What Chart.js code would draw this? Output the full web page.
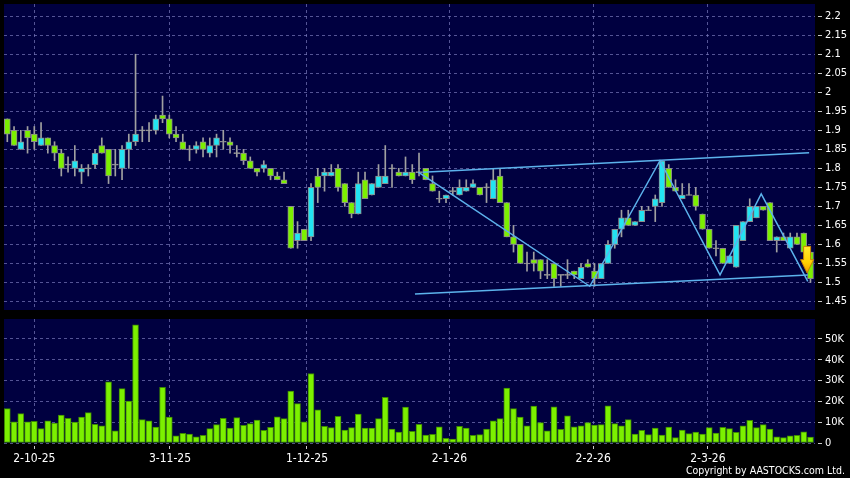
<!DOCTYPE html>
<html>
<head>
<meta charset="utf-8">
<script src="https://cdn.jsdelivr.net/npm/chart.js@4.4.1/dist/chart.umd.min.js"></script>
<style>
  html, body { margin: 0; padding: 0; background: #000; }
  #wrap { position: relative; width: 850px; height: 478px; background: #000; overflow: hidden; }
  #price { position: absolute; left: 0; top: 0; }
  #vol { position: absolute; left: 0; top: 313px; }
  #copy { position: absolute; right: 5px; top: 464px; color: #fff; font: 10.5px "DejaVu Sans Condensed", "DejaVu Sans", sans-serif; white-space: nowrap; }
</style>
</head>
<body>
<div id="wrap">
  <canvas id="price" width="850" height="313"></canvas>
  <canvas id="vol" width="850" height="165"></canvas>
  <div id="copy">Copyright by AASTOCKS.com Ltd.</div>
</div>
<script>
// daily OHLC, oldest first
const opens = [1.93,1.90,1.85,1.90,1.89,1.86,1.88,1.86,1.84,1.81,
  1.80,1.79,1.80,1.81,1.86,1.85,1.81,1.80,1.85,1.87,
  1.90,1.90,1.90,1.94,1.93,1.89,1.87,1.85,1.85,1.87,
  1.84,1.86,1.87,1.87,1.84,1.84,1.82,1.80,1.80,1.80,
  1.78,1.77,1.70,1.61,1.64,1.62,1.78,1.78,1.78,1.80,
  1.76,1.71,1.68,1.77,1.73,1.75,1.76,1.80,1.79,1.78,
  1.79,1.79,1.80,1.76,1.72,1.72,1.74,1.73,1.74,1.75,
  1.75,1.75,1.72,1.78,1.71,1.62,1.60,1.55,1.56,1.56,
  1.52,1.55,1.52,1.52,1.53,1.51,1.55,1.53,1.51,1.55,
  1.60,1.64,1.67,1.65,1.66,1.69,1.70,1.71,1.80,1.75,
  1.72,1.73,1.73,1.68,1.64,1.59,1.59,1.55,1.54,1.61,
  1.66,1.67,1.70,1.71,1.61,1.62,1.59,1.62,1.63,1.58];
const highs = [1.93,1.91,1.90,1.91,1.91,1.92,1.88,1.87,1.85,1.83,
  1.86,1.81,1.81,1.85,1.88,1.85,1.85,1.86,1.89,2.10,
  1.91,1.92,1.94,1.99,1.94,1.91,1.89,1.86,1.87,1.88,
  1.88,1.89,1.90,1.88,1.86,1.85,1.83,1.80,1.82,1.80,
  1.79,1.79,1.70,1.66,1.64,1.76,1.80,1.80,1.81,1.81,
  1.76,1.71,1.79,1.79,1.76,1.81,1.86,1.81,1.80,1.83,
  1.81,1.84,1.80,1.78,1.74,1.73,1.75,1.77,1.77,1.77,
  1.75,1.76,1.80,1.80,1.71,1.65,1.60,1.58,1.58,1.56,
  1.56,1.55,1.52,1.56,1.53,1.55,1.56,1.55,1.55,1.61,
  1.64,1.69,1.69,1.66,1.70,1.70,1.73,1.82,1.81,1.77,
  1.76,1.76,1.75,1.68,1.64,1.61,1.59,1.57,1.65,1.66,
  1.72,1.70,1.70,1.71,1.62,1.63,1.63,1.63,1.63,1.58];
const lows = [1.87,1.86,1.85,1.84,1.85,1.86,1.84,1.82,1.78,1.79,
  1.78,1.76,1.78,1.80,1.84,1.76,1.78,1.77,1.80,1.86,
  1.87,1.87,1.89,1.92,1.88,1.87,1.85,1.82,1.84,1.83,
  1.83,1.83,1.85,1.84,1.83,1.81,1.80,1.78,1.79,1.77,
  1.77,1.76,1.59,1.59,1.61,1.61,1.71,1.74,1.78,1.74,
  1.70,1.67,1.68,1.72,1.73,1.75,1.76,1.75,1.78,1.78,
  1.76,1.78,1.77,1.74,1.71,1.71,1.73,1.73,1.74,1.75,
  1.73,1.71,1.72,1.71,1.62,1.58,1.55,1.53,1.53,1.51,
  1.51,1.49,1.49,1.51,1.51,1.51,1.54,1.49,1.51,1.55,
  1.59,1.62,1.65,1.65,1.66,1.69,1.66,1.70,1.75,1.74,
  1.72,1.73,1.69,1.64,1.59,1.57,1.55,1.55,1.54,1.61,
  1.66,1.67,1.69,1.61,1.58,1.61,1.59,1.60,1.58,1.50];
const closes = [1.89,1.86,1.87,1.88,1.87,1.88,1.86,1.84,1.80,1.81,
  1.82,1.80,1.80,1.84,1.84,1.78,1.81,1.85,1.87,1.89,
  1.90,1.90,1.93,1.93,1.89,1.88,1.85,1.85,1.86,1.85,
  1.86,1.88,1.87,1.86,1.84,1.82,1.80,1.79,1.81,1.78,
  1.77,1.76,1.59,1.63,1.61,1.75,1.75,1.79,1.79,1.75,
  1.71,1.68,1.76,1.72,1.76,1.78,1.78,1.80,1.78,1.79,
  1.77,1.79,1.77,1.74,1.72,1.73,1.74,1.75,1.75,1.76,
  1.73,1.75,1.77,1.71,1.62,1.60,1.55,1.55,1.55,1.53,
  1.52,1.51,1.52,1.52,1.52,1.54,1.54,1.51,1.55,1.60,
  1.64,1.67,1.65,1.66,1.69,1.69,1.72,1.82,1.75,1.74,
  1.73,1.73,1.70,1.64,1.59,1.59,1.55,1.57,1.65,1.66,
  1.70,1.70,1.69,1.61,1.62,1.61,1.62,1.60,1.58,1.51];
// volume in thousands
const volumes = [16.5,10.2,14.1,10.2,10.4,6.9,10.7,9.6,13.4,11.8,
  10.1,12.5,14.6,9.0,8.3,29.4,5.9,26.1,20.2,56.8,
  11.2,10.6,7.7,26.7,12.5,3.5,4.6,4.3,3.0,3.7,
  6.9,8.8,11.8,7.2,12.2,8.5,9.3,11.0,6.1,7.5,
  12.6,11.7,25.0,18.9,10.2,33.4,16.0,8.0,7.4,12.8,
  6.2,7.4,13.9,7.2,7.2,11.7,21.9,6.7,5.3,17.3,
  5.6,9.0,3.8,4.2,7.8,2.2,1.9,8.0,7.2,3.7,
  4.0,6.7,10.6,11.7,26.4,16.5,12.5,8.3,17.8,9.8,
  5.9,17.4,6.6,13.1,7.8,8.3,9.8,8.6,8.8,17.9,
  9.3,8.2,11.2,4.3,6.1,4.0,7.2,3.8,7.7,2.6,
  6.2,4.5,5.3,4.3,7.4,4.8,7.5,6.9,5.1,8.2,
  10.9,7.4,8.8,6.7,3.0,2.6,3.4,3.7,5.4,2.9];

const xTickLabels = ['2-10-25', '3-11-25', '1-12-25', '2-1-26', '2-2-26', '2-3-26'];
const xTickPos = [4, 24.1, 44.4, 65.5, 86.8, 103.8];   // in bar index units
const priceTicks = [1.45, 1.5, 1.55, 1.6, 1.65, 1.7, 1.75, 1.8, 1.85, 1.9, 1.95, 2, 2.05, 2.1, 2.15, 2.2];
const volTicks = [0, 10, 20, 30, 40, 50];

// hand drawn lines on the chart (bar index, price)
const upperChannel = [{x: 61.5, y: 1.790}, {x: 118.8, y: 1.841}];
const lowerChannel = [{x: 60.4, y: 1.470}, {x: 118.6, y: 1.520}];
const zigzag = [{x: 60.9, y: 1.79}, {x: 86.3, y: 1.49}, {x: 96.7, y: 1.82},
  {x: 105.6, y: 1.52}, {x: 111.7, y: 1.733}, {x: 118.6, y: 1.503}];

const NAVY = '#000040';
const GRID = 'rgba(120,120,185,0.7)';
const UP = '#22e4f2';
const DOWN = '#7cf000';
const FLAT = '#a0a0a0';
const LINE = '#5cb2ec';
const FONT = '"DejaVu Sans Condensed", "DejaVu Sans", sans-serif';
const X_MIN = -0.49, X_MAX = 119.67;

const bodies = opens.map((o, i) => {
  const c = closes[i];
  if (Math.abs(o - c) < 0.004) return {x: i, y: [o - 0.0013, o + 0.0013]};
  return {x: i, y: [o, c]};
});
const bodyColors = opens.map((o, i) => closes[i] > o + 0.004 ? UP : (closes[i] < o - 0.004 ? DOWN : FLAT));
const wicks = highs.map((h, i) => ({x: i, y: [lows[i], h]}));
const volBars = volumes.map((v, i) => ({x: i, y: v}));

// navy plot background
const plotBg = {
  id: 'plotBg',
  beforeDraw(chart) {
    const {ctx, chartArea: a} = chart;
    ctx.save();
    ctx.fillStyle = NAVY;
    ctx.fillRect(a.left, a.top, a.right - a.left, a.bottom - a.top);
    ctx.restore();
  }
};

// yellow down arrow on the last bar
const downArrow = {
  id: 'downArrow',
  afterDatasetsDraw(chart) {
    const {ctx, scales: {x, y}} = chart;
    const cx = x.getPixelForValue(118.5);
    const top = y.getPixelForValue(1.595), neck = y.getPixelForValue(1.56), tip = y.getPixelForValue(1.525);
    const g = ctx.createLinearGradient(0, top, 0, tip);
    g.addColorStop(0, '#ffea30');
    g.addColorStop(0.6, '#ffd000');
    g.addColorStop(1, '#f09800');
    ctx.save();
    ctx.fillStyle = g;
    ctx.strokeStyle = '#c88000';
    ctx.lineWidth = 1;
    ctx.beginPath();
    ctx.moveTo(cx - 3.5, top);
    ctx.lineTo(cx + 3.5, top);
    ctx.lineTo(cx + 3.5, neck);
    ctx.lineTo(cx + 6.5, neck);
    ctx.lineTo(cx, tip);
    ctx.lineTo(cx - 6.5, neck);
    ctx.lineTo(cx - 3.5, neck);
    ctx.closePath();
    ctx.fill();
    ctx.stroke();
    ctx.restore();
  }
};

const lineSet = (data) => ({
  type: 'line', data: data, borderColor: LINE, borderWidth: 1.5,
  pointRadius: 0, fill: false, order: 0
});

// no label padding at the ends, so the plot fills the panel
const noEdgePad = s => { s.paddingTop = 0; s.paddingBottom = 0; s.paddingLeft = 0; s.paddingRight = 0; };

new Chart(document.getElementById('price'), {
  type: 'bar',
  data: {
    datasets: [
      lineSet(upperChannel),
      lineSet(lowerChannel),
      lineSet(zigzag),
      {data: bodies, backgroundColor: bodyColors, borderColor: '#8c8c8c', borderWidth: 1,
       borderSkipped: false, barThickness: 6, grouped: false, order: 1},
      {data: wicks, backgroundColor: FLAT, barThickness: 1, grouped: false, order: 2}
    ]
  },
  options: {
    responsive: false,
    animation: false,
    devicePixelRatio: 1,
    layout: {padding: {left: 4, top: 4, right: 0, bottom: 3}},
    plugins: {legend: {display: false}, tooltip: {enabled: false}},
    scales: {
      x: {
        type: 'linear', min: X_MIN, max: X_MAX, offset: false,
        afterBuildTicks: s => { s.ticks = xTickPos.map(v => ({value: v})); },
        afterFit: s => { s.height = 0; noEdgePad(s); },
        ticks: {display: false},
        grid: {color: GRID, drawTicks: false, offset: false, borderDash: [3, 3]},
        border: {display: false, dash: [3, 3]}
      },
      y: {
        position: 'right', min: 1.4277, max: 2.232,
        afterBuildTicks: s => { s.ticks = priceTicks.map(v => ({value: v})); },
        afterFit: s => { s.width = 35; noEdgePad(s); },
        ticks: {color: '#fff', padding: 3, font: {family: FONT, size: 11},
                callback: v => String(+v.toFixed(2))},
        grid: {color: GRID, borderDash: [3, 3], tickLength: 7, tickColor: '#c8c8c8',
               tickBorderDash: [0, 3, 4, 0]},
        border: {display: false, dash: [3, 3]}
      }
    }
  },
  plugins: [plotBg, downArrow]
});

new Chart(document.getElementById('vol'), {
  type: 'bar',
  data: {
    datasets: [{data: volBars, backgroundColor: DOWN, borderColor: '#3d8a00', borderWidth: 1,
                borderSkipped: false, barThickness: 6}]
  },
  options: {
    responsive: false,
    animation: false,
    devicePixelRatio: 1,
    layout: {padding: {left: 4, top: 6, right: 0, bottom: 0}},
    plugins: {legend: {display: false}, tooltip: {enabled: false}},
    scales: {
      x: {
        type: 'linear', min: X_MIN, max: X_MAX, offset: false,
        afterBuildTicks: s => { s.ticks = xTickPos.map(v => ({value: v})); },
        afterFit: s => { s.height = 35; noEdgePad(s); },
        ticks: {color: '#fff', padding: 3, maxRotation: 0, autoSkip: false,
                font: {family: FONT, size: 12},
                callback: (v, i) => xTickLabels[i]},
        grid: {color: GRID, offset: false, borderDash: [3, 3], tickLength: 6, tickColor: '#c8c8c8',
               tickBorderDash: [0, 3, 3, 0]},
        border: {display: false, dash: [3, 3]}
      },
      y: {
        position: 'right', min: 0, max: 59.6,
        afterBuildTicks: s => { s.ticks = volTicks.map(v => ({value: v})); },
        afterFit: s => { s.width = 35; noEdgePad(s); },
        ticks: {color: '#fff', padding: 3, font: {family: FONT, size: 11},
                callback: v => v === 0 ? '0' : v + 'K'},
        grid: {color: GRID, borderDash: [3, 3], tickLength: 7, tickColor: '#c8c8c8',
               tickBorderDash: [0, 3, 4, 0]},
        border: {display: false, dash: [3, 3]}
      }
    }
  },
  plugins: [plotBg]
});
</script>
</body>
</html>
